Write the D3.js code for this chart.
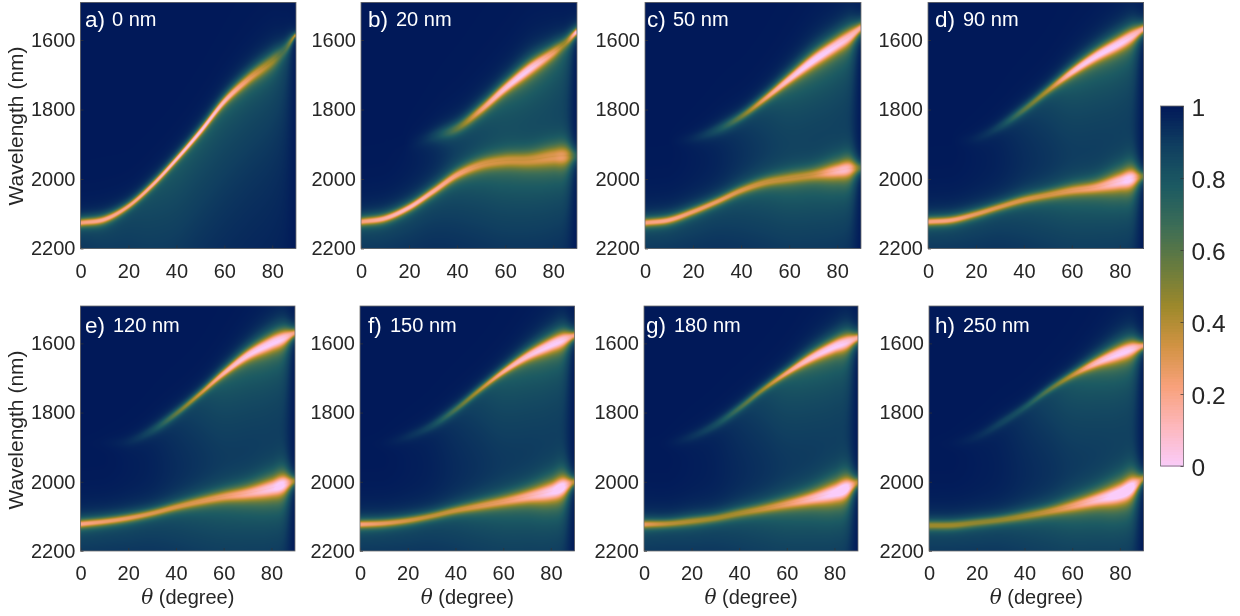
<!DOCTYPE html>
<html><head><meta charset="utf-8">
<script src="https://cdn.jsdelivr.net/npm/d3@7"></script>
<style>
html,body{margin:0;padding:0;background:#fff;width:1240px;height:616px;overflow:hidden}
canvas,svg{position:absolute;left:0;top:0}
text{font-family:"Liberation Sans",Arial,sans-serif}
</style></head><body>
<canvas id="c" width="1240" height="616"></canvas>
<svg id="s" width="1240" height="616"></svg>
<script>
// ---- data ----
const panelLetters = ["a)","b)","c)","d)","e)","f)","g)","h)"];
const panelThickness = ["0 nm","20 nm","50 nm","90 nm","120 nm","150 nm","180 nm","250 nm"];
const thetaTicks = [0,20,40,60,80];
const wavelengthTicks = [1600,1800,2000,2200];
const colorbarTicks = [0,0.2,0.4,0.6,0.8,1];
const batlowReversed = ["#FACCFA","#FDB7BC","#F8A17B","#D29343","#9D892B","#687B3E","#3C6D56","#1C5A62","#103F60","#011959"];
const thetaKnots = [0,10,20,30,40,50,60,70,80,85,89];

// upper branch per panel: wavelength (nm), dip depth (1-R), half width (nm)
const upperWave = [
 [2126,2116,2078,2017,1943,1863,1776,1712,1660,1628,1591],
 [1900,1900,1897,1877,1853,1800,1738,1683,1635,1608,1581],
 [1890,1890,1882,1858,1820,1768,1712,1658,1612,1590,1569],
 [1890,1890,1882,1848,1800,1745,1692,1646,1608,1588,1571],
 [1890,1888,1883,1851,1803,1746,1686,1634,1598,1584,1572],
 [1890,1888,1869,1838,1791,1735,1682,1637,1603,1589,1579],
 [1890,1888,1869,1835,1787,1733,1685,1642,1608,1596,1586],
 [1890,1888,1869,1830,1785,1735,1692,1656,1627,1615,1608]];
const upperDepth = [
 [.78,.82,.80,.85,.92,.95,.88,.72,.52,.35,.60],
 [0,0,.01,.12,.42,.75,.92,.95,.72,.55,.90],
 [0,0,.05,.18,.45,.75,.92,1,.95,.90,.85],
 [0,0,.04,.14,.40,.60,.90,.98,.98,.92,.85],
 [0,.01,.05,.16,.42,.65,.85,.95,.98,.95,.80],
 [0,.01,.06,.15,.38,.60,.82,.92,.98,.95,.80],
 [0,.01,.07,.16,.35,.55,.78,.92,.98,.95,.85],
 [0,.01,.05,.12,.20,.40,.62,.88,.98,.95,.80]];
const upperWidth = [
 [10,10,9,9,9,10,12,16,20,18,7],
 [20,20,20,18,15,14,15,18,17,15,10],
 [14,14,14,14,11,11,14,18,20,20,14],
 [14,14,14,13,11,11,13,16,19,19,13],
 [14,14,14,13,10,9,11,15,20,20,12],
 [14,14,13,12,10,9,10,14,19,20,12],
 [14,14,13,12,10,9,10,14,18,20,13],
 [14,14,13,12,10,9,10,14,20,20,12]];
// lower branch per panel (panel a has none)
const lowerWave = [
 null,
 [2123,2113,2082,2036,1988,1959,1947,1945,1935,1933,1933],
 [2126,2118,2094,2065,2033,2010,1998,1988,1976,1970,1968],
 [2123,2118,2101,2080,2060,2046,2033,2024,2007,1998,1993],
 [2122,2115,2105,2091,2073,2057,2043,2033,2018,2007,1999],
 [2123,2120,2112,2099,2083,2070,2057,2043,2028,2014,2002],
 [2123,2121,2114,2105,2091,2078,2064,2049,2031,2018,2004],
 [2126,2125,2118,2110,2099,2086,2070,2052,2033,2015,1994]];
const lowerDepth = [
 null,
 [.78,.85,.88,.82,.72,.60,.55,.55,.60,.62,.30],
 [.78,.80,.75,.72,.65,.58,.55,.58,.80,.80,.45],
 [.78,.78,.72,.68,.65,.62,.65,.72,.88,.92,.50],
 [.80,.75,.72,.68,.65,.65,.68,.78,.90,.95,.60],
 [.78,.72,.66,.62,.62,.65,.68,.78,.92,.98,.65],
 [.72,.62,.58,.55,.55,.60,.68,.82,.96,1,.65],
 [.55,.55,.52,.52,.55,.60,.70,.85,1,1,.65]];
const lowerWidth = [
 null,
 [10,10,10,11,13,16,18,20,24,25,18],
 [10,10,10,10,11,13,15,16,20,22,14],
 [10,10,10,10,11,12,14,16,22,24,14],
 [10,10,10,10,11,13,15,18,23,24,13],
 [10,10,10,10,11,13,15,18,24,25,13],
 [10,10,11,11,12,13,15,18,24,25,14],
 [11,11,11,11,12,13,16,19,25,26,14]];
// reflectance drop on the long-wavelength side of each branch
const tailUpper = [0,0,.01,.03,.08,.14,.21,.24,.24,.20,.03];
const tailLower = [.13,.13,.13,.13,.14,.16,.18,.19,.19,.16,.03];
const tailSingle = [.10,.12,.14,.18,.21,.21,.21,.20,.18,.14,.03];

// ---- layout ----
const panelLeft = [80.5,361,645,928,80.5,360,644,929];
const panelRight = [296,577,861,1143.5,295,574.5,858,1143.5];
const rowTop = [2.5,306];
const rowBottom = [248.5,551];
const labelX = [[85,112],[368,396],[647,673],[935,963],[85,113],[368,390],[646,674],[935,963]];
const widthScale = 1.15;

const cmap = d3.scaleLinear()
  .domain(batlowReversed.map((_,i)=>i/(batlowReversed.length-1)))
  .range(batlowReversed).interpolate(d3.interpolateRgb).clamp(true);

function hermite(xs,ys){
  const n=xs.length, m=ys.map((_,i)=>{
    if(i===0) return (ys[1]-ys[0])/(xs[1]-xs[0]);
    if(i===n-1) return (ys[n-1]-ys[n-2])/(xs[n-1]-xs[n-2]);
    return (ys[i+1]-ys[i-1])/(xs[i+1]-xs[i-1]);
  });
  const bis=d3.bisector(d=>d).right;
  return t=>{
    const i=Math.min(n-2,Math.max(0,bis(xs,t)-1));
    const h=xs[i+1]-xs[i], u=Math.min(1.1,(t-xs[i])/h);
    const u2=u*u,u3=u2*u;
    return (2*u3-3*u2+1)*ys[i]+(u3-2*u2+u)*h*m[i]+(-2*u3+3*u2)*ys[i+1]+(u3-u2)*h*m[i+1];
  };
}
const tT=t=>hermite(thetaKnots,t);

const ctx=document.getElementById("c").getContext("2d");
const svg=d3.select("#s");
const tc="#262626", bc="#6e6e6e";
const prof=(dl,w)=>1/(1+Math.pow(Math.abs(dl/w),2.3));

function branch(th,fn){return {l:fn.l(th),d:Math.max(0,Math.min(1.05,fn.d(th))),w:Math.max(2,fn.w(th))*widthScale,t:Math.max(0,fn.t(th))};}

panelLetters.forEach((lab,i)=>{
  const row=i<4?0:1;
  const x=d3.scaleLinear().domain([0,89.9]).range([panelLeft[i],panelRight[i]]);
  const y=d3.scaleLinear().domain([1492,2200]).range([rowTop[row],rowBottom[row]]);
  const U={l:tT(upperWave[i]),d:tT(upperDepth[i]),w:tT(upperWidth[i]),t:tT(i===0?tailSingle:tailUpper)};
  const L=lowerWave[i]?{l:tT(lowerWave[i]),d:tT(lowerDepth[i]),w:tT(lowerWidth[i]),t:tT(tailLower)}:null;
  const tauU=i===0?320:260, tauL=190;
  // draw cells through the scales
  for(let px=Math.floor(panelLeft[i]);px<panelRight[i];px++){
    const th=Math.max(0,Math.min(89.5,x.invert(px+.5)));
    const bu=branch(th,U), bl=L?branch(th,L):null;
    for(let py=Math.floor(rowTop[row]);py<rowBottom[row];py++){
      const lam=y.invert(py+.5);
      let drop=0;
      const du=lam-bu.l;
      drop+=bu.d*prof(du,bu.w);
      if(du>0) drop+=bu.t*Math.exp(-du/tauU)*(1-Math.exp(-du/18));
      if(bl){
        const dl=lam-bl.l;
        drop+=bl.d*prof(dl,bl.w);
        if(dl>0) drop+=bl.t*Math.exp(-dl/tauL)*(1-Math.exp(-dl/18));
        else drop+=bl.t*0.5*Math.exp(dl/45)*(1-Math.exp(dl/18));
      }
      ctx.fillStyle=cmap(Math.max(0,1-drop));
      ctx.fillRect(px,py,1,1);
    }
  }
  const g=svg.append("g");
  const ax=g.append("g").attr("transform",`translate(0,${rowBottom[row]})`)
    .call(d3.axisBottom(x).tickValues(thetaTicks).tickFormat(d3.format("d")).tickSizeInner(-3).tickSizeOuter(0).tickPadding(13));
  const ay=g.append("g").attr("transform",`translate(${panelLeft[i]},0)`)
    .call(d3.axisLeft(y).tickValues(wavelengthTicks).tickFormat(d3.format("d")).tickSizeInner(-3).tickSizeOuter(0).tickPadding(5));
  [ax,ay].forEach(a=>{
    a.selectAll(".tick text").attr("font-size",20).attr("fill",tc).attr("font-family",'"Liberation Sans",Arial,sans-serif');
    a.selectAll(".tick line").attr("stroke","#333").attr("stroke-width",.7);
    a.select(".domain").attr("stroke","none");
  });
  ax.selectAll(".tick text").attr("dy",".8em");
  g.append("rect").attr("x",panelLeft[i]).attr("y",rowTop[row])
    .attr("width",panelRight[i]-panelLeft[i]).attr("height",rowBottom[row]-rowTop[row])
    .attr("fill","none").attr("stroke",bc).attr("stroke-width",.8);
  const baseY=row===0?27:333;
  g.append("text").attr("x",labelX[i][0]).attr("y",baseY).attr("fill","#fff").attr("font-size",22.5).text(lab);
  g.append("text").attr("x",labelX[i][1]).attr("y",baseY-1).attr("fill","#fff").attr("font-size",20).text(panelThickness[i]);
  if(i===0||i===4){
    g.append("text").attr("transform",`translate(23,${row===0?126:430}) rotate(-90)`)
      .attr("text-anchor","middle").attr("font-size",21).attr("fill",tc).text("Wavelength (nm)");
  }
  if(row===1){
    const t=g.append("text").attr("x",(panelLeft[i]+panelRight[i])/2).attr("y",604)
      .attr("text-anchor","middle").attr("font-size",20).attr("fill",tc);
    t.append("tspan").attr("font-style","italic").attr("font-family",'"DejaVu Serif",serif').text("θ");
    t.append("tspan").text(" (degree)");
  }
});

// colorbar
const cy=d3.scaleLinear().domain([0,1]).range([466,106]);
const cbLevels=d3.range(0,128).map(i=>i/128);
const cb=svg.append("g");
cb.selectAll("rect.lev").data(cbLevels).join("rect").attr("class","lev")
  .attr("x",1160.5).attr("width",23).attr("y",d=>cy(d+1/128)).attr("height",d=>cy(d)-cy(d+1/128)+.5)
  .attr("fill",d=>cmap(d+1/256)).attr("shape-rendering","crispEdges");
cb.append("rect").attr("x",1160.5).attr("y",106).attr("width",23).attr("height",360)
  .attr("fill","none").attr("stroke",bc).attr("stroke-width",.8);
const cax=cb.append("g").attr("transform","translate(1183.5,0)")
  .call(d3.axisRight(cy).tickValues(colorbarTicks).tickFormat(d=>String(d)).tickSizeInner(-3).tickSizeOuter(0).tickPadding(8));
cax.select(".domain").attr("stroke","none");
cax.selectAll(".tick line").attr("stroke","#333").attr("stroke-width",.7);
cax.selectAll(".tick text").attr("font-size",24.5).attr("dy",".4em").attr("fill",tc).attr("font-family",'"Liberation Sans",Arial,sans-serif');
</script>
</body></html>
